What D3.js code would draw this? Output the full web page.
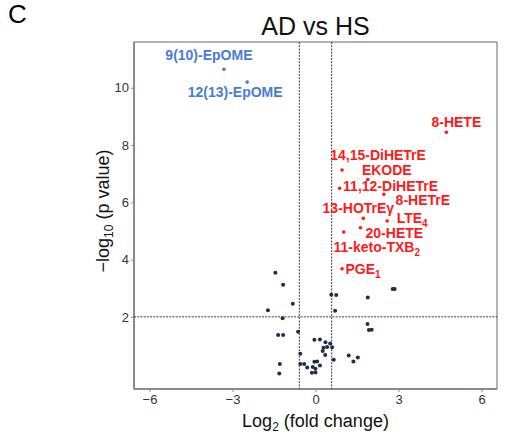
<!DOCTYPE html>
<html lang="en">
<head>
<meta charset="UTF-8">
<title>AD vs HS volcano</title>
<script src="https://d3js.org/d3.v7.min.js"></script>
<style>
  body { margin: 0; background: #fff; }
  svg text { font-family: Arial, "Liberation Sans", sans-serif; }
</style>
</head>
<body>
<svg id="chart" width="505" height="443"></svg>
<script>
// --- data ---
// unlabelled metabolites: log2 fold change, -log10 p
const greyX = [-1.45, -1.17, 0.57, 0.75, 1.89, 2.79, 2.86, -0.82, -1.72, 0.71, -1.19, 1.88, 1.93, 2.03,
  -0.63, -1.35, -1.17, -0.04, 0.16, 0.36, 0.53, 0.42, 0.60, 0.29, 0.26, 0.35, -0.55, 1.20, 1.53, 0.66,
  1.37, -0.04, 0.06, -0.55, -0.41, -1.29, 0.16, -0.10, -0.30, 0.00, -0.13, 0.00, -1.31];
const greyY = [3.54, 3.12, 2.77, 2.76, 2.68, 2.97, 2.97, 2.46, 2.23, 2.21, 1.95, 1.75, 1.54, 1.55,
  1.48, 1.37, 1.37, 1.20, 1.21, 1.11, 1.07, 0.95, 0.94, 0.92, 0.81, 0.67, 0.71, 0.65, 0.58, 0.50,
  0.44, 0.43, 0.44, 0.35, 0.35, 0.35, 0.30, 0.25, 0.23, 0.19, 0.05, 0.06, 0.02];

// down-regulated (blue) and up-regulated (red) named hits
const downNames = ["9(10)-EpOME", "12(13)-EpOME"];
const downX = [-3.31, -2.47];
const downY = [10.65, 10.20];

const upNames = ["8-HETE", "14,15-DiHETrE", "EKODE", "11,12-DiHETrE", "8-HETrE", "13-HOTrEγ",
  "LTE|4", "20-HETE", "11-keto-TXB|2", "PGE|1"];
const upX = [4.73, 0.96, 1.89, 0.87, 2.47, 1.73, 2.59, 1.62, 1.02, 0.96];
const upY = [8.45, 7.13, 6.80, 6.49, 6.28, 5.44, 5.35, 5.11, 4.96, 3.68];

const xTicks = [-6, -3, 0, 3, 6];
const yTicks = [2, 4, 6, 8, 10];
const fcCut = 0.585;
const pCut = 2;

// label offsets in px from their dot (layout only)
const downOffset = [[-15, -14], [-12, 10]];
const upOffset = [[10, -10], [36, -15], [19, -9], [51, -2], [39, 6], [-5, -10],
  [25, -3], [34, 5], [33, 15], [21, 0]];

// --- layout ---
const svg = d3.select("#chart");
const pLeft = 134, pRight = 497, pTop = 42, pBottom = 389;

const x = d3.scaleLinear().domain([-6.56, 6.56]).range([pLeft, pRight]);
const y = d3.scaleLinear().domain([-0.52, 11.6]).range([pBottom, pTop]);

// panel frame
svg.append("rect")
  .attr("x", pLeft).attr("y", pTop)
  .attr("width", pRight - pLeft).attr("height", pBottom - pTop)
  .attr("fill", "none").attr("stroke", "#444").attr("stroke-width", 0.8);

// axes
const xAxis = svg.append("g")
  .attr("transform", `translate(0,${pBottom})`)
  .call(d3.axisBottom(x).tickValues(xTicks).tickSize(3).tickPadding(3)
    .tickFormat(d => d < 0 ? "\u2212" + Math.abs(d) : d));
const yAxis = svg.append("g")
  .attr("transform", `translate(${pLeft},0)`)
  .call(d3.axisLeft(y).tickValues(yTicks).tickSize(3).tickPadding(2));

[xAxis, yAxis].forEach(a => {
  a.select(".domain").attr("stroke", "#8a8a8a").attr("stroke-width", 2);
  a.selectAll(".tick line").attr("stroke", "#8a8a8a");
  a.selectAll(".tick text").attr("fill", "#333").style("font-size", "13px");
});
xAxis.select(".domain").attr("d", `M${pLeft},0H${pRight}`);
yAxis.select(".domain").attr("d", `M0,${pBottom}V${pTop}`);

// threshold lines
const dash = "2,1.2";
[-fcCut, fcCut].forEach(v => {
  svg.append("line")
    .attr("x1", x(v)).attr("x2", x(v)).attr("y1", pTop).attr("y2", pBottom)
    .attr("stroke", "#222").attr("stroke-width", 0.9).attr("stroke-dasharray", dash);
});
svg.append("line")
  .attr("x1", pLeft).attr("x2", pRight).attr("y1", y(pCut)).attr("y2", y(pCut))
  .attr("stroke", "#222").attr("stroke-width", 0.9).attr("stroke-dasharray", dash);

// points
svg.append("g").selectAll("circle")
  .data(d3.zip(greyX, greyY))
  .join("circle")
  .attr("cx", d => x(d[0])).attr("cy", d => y(d[1]))
  .attr("r", 2).attr("fill", "#1f2e45");

function labelled(names, xs, ys, offs, color) {
  const g = svg.append("g");
  const rows = names.map((n, i) => ({ name: n, x: xs[i], y: ys[i], off: offs[i] }));
  g.selectAll("circle").data(rows).join("circle")
    .attr("cx", d => x(d.x)).attr("cy", d => y(d.y))
    .attr("r", 1.8).attr("fill", color);
  const t = g.selectAll("text").data(rows).join("text")
    .attr("x", d => x(d.x) + d.off[0])
    .attr("y", d => y(d.y) + d.off[1] + 5)
    .attr("text-anchor", "middle")
    .attr("fill", color)
    .style("font-size", "14px").style("font-weight", "bold");
  t.each(function (d) {
    const parts = d.name.split("|");
    const el = d3.select(this);
    el.append("tspan").text(parts[0]);
    if (parts[1]) {
      el.append("tspan").attr("dy", 4).style("font-size", "10px").text(parts[1]);
    }
  });
}
labelled(downNames, downX, downY, downOffset, "#4a7bd3");
labelled(upNames, upX, upY, upOffset, "#ff1a1a");

// titles
svg.append("text")
  .attr("x", 8).attr("y", 23)
  .style("font-size", "26px").attr("fill", "#000")
  .text("C");

svg.append("text")
  .attr("x", (pLeft + pRight) / 2).attr("y", 35)
  .attr("text-anchor", "middle")
  .style("font-size", "25px").attr("fill", "#111")
  .text("AD vs HS");

const xl = svg.append("text")
  .attr("x", (pLeft + pRight) / 2).attr("y", 427)
  .attr("text-anchor", "middle")
  .style("font-size", "18px").attr("fill", "#111");
xl.append("tspan").text("Log");
xl.append("tspan").attr("dy", 4).style("font-size", "12px").text("2");
xl.append("tspan").attr("dy", -4).text(" (fold change)");

const yl = svg.append("text")
  .attr("transform", `translate(109,211) rotate(-90)`)
  .attr("text-anchor", "middle")
  .style("font-size", "18px").attr("fill", "#111");
yl.append("tspan").text("\u2212log");
yl.append("tspan").attr("dy", 4).style("font-size", "12px").text("10");
yl.append("tspan").attr("dy", -4).text(" (p value)");
</script>
</body>
</html>
